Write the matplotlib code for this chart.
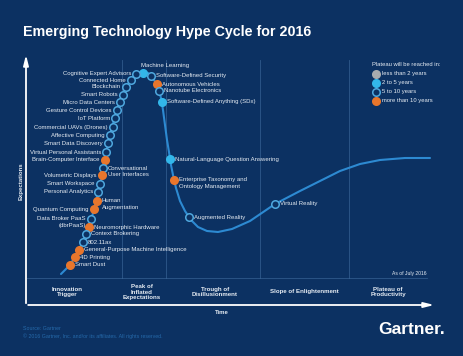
import matplotlib
matplotlib.use('Agg')
import matplotlib.pyplot as plt

plt.rcParams['font.family'] = ['Liberation Sans', 'DejaVu Sans']

# ===== Data (positions, x = time, y = screen depth) =====
techs = [
    'Machine Learning', 'Cognitive Expert Advisors', 'Software-Defined Security',
    'Connected Home', 'Autonomous Vehicles', 'Blockchain', 'Nanotube Electronics',
    'Smart Robots', 'Software-Defined Anything (SDx)', 'Micro Data Centers',
    'Gesture Control Devices', 'IoT Platform', 'Commercial UAVs (Drones)',
    'Affective Computing', 'Smart Data Discovery', 'Virtual Personal Assistants',
    'Brain-Computer Interface', 'Conversational\nUser Interfaces', 'Volumetric Displays',
    'Smart Workspace', 'Personal Analytics', 'Human\nAugmentation', 'Quantum Computing',
    'Data Broker PaaS\n(dbrPaaS)', 'Neuromorphic Hardware', 'Context Brokering',
    '802.11ax', 'General-Purpose Machine Intelligence', '4D Printing', 'Smart Dust',
    'Natural-Language Question Answering', 'Enterprise Taxonomy and\nOntology Management',
    'Augmented Reality', 'Virtual Reality',
]
tech_x = [143, 136, 151, 131, 157, 126, 159, 123, 162, 120, 117, 115, 113, 110, 108,
          106, 105, 103, 102, 100, 98, 97, 94, 91, 89, 86, 83, 79, 75, 70,
          170, 174, 189, 275]
tech_y = [73, 74, 76, 80, 84, 87, 91, 95, 102, 102, 110, 118, 127, 135, 143,
          152, 160, 168, 175, 184, 192, 201, 209, 219, 227, 234, 242, 250, 257, 265,
          159, 180, 217, 204]
# 0: <2 yrs, 1: 2-5 yrs, 2: 5-10 yrs, 3: >10 yrs
horizon = [1, 2, 2, 2, 3, 2, 2, 2, 1, 2, 2, 2, 2, 2, 2, 2, 3, 2, 3, 2, 2, 3, 3, 2,
           3, 2, 2, 3, 3, 3, 1, 3, 2, 2]
side = ['T', 'L', 'R', 'L', 'R', 'L', 'R', 'L', 'R', 'L', 'L', 'L', 'L', 'L', 'L',
        'L', 'L', 'R', 'L', 'L', 'L', 'R', 'L', 'L', 'R', 'R', 'R', 'R', 'R', 'R',
        'R', 'R', 'R', 'R']

curve_x = [61, 70, 79, 86, 91, 95, 98, 102, 105, 108, 112, 117, 122, 128, 135, 143,
           148, 152, 156, 159, 161, 163, 165, 167, 169, 171, 173, 176, 180, 185, 191,
           198, 207, 218, 232, 250, 275, 300, 320, 340, 360, 380, 405, 430]
curve_y = [274, 265, 250, 234, 220, 206, 192, 176, 160, 143, 127, 110, 96, 84, 76, 72,
           73, 77, 83, 91, 98, 110, 125, 140, 152, 165, 175, 188, 201, 211, 220,
           227, 231, 232, 229, 221, 204, 191, 181, 171, 164, 160, 158, 158]

phases = ['Innovation\nTrigger', 'Peak of\nInflated\nExpectations', 'Trough of\nDisillusionment',
          'Slope of Enlightenment', 'Plateau of\nProductivity']
phase_x = [67, 142, 215, 304, 388]
phase_edges = [122, 166, 260, 349]

horizon_labels = ['less than 2 years', '2 to 5 years', '5 to 10 years', 'more than 10 years']

# ===== Style =====
BG = '#0c3162'
LINE = '#2d8ad2'
HOLLOW = '#4fa8de'
fills = ['#a9abae', '#33b7ea', BG, '#e8762c']
edges = ['#a9abae', '#33b7ea', HOLLOW, '#e8762c']
TXT = '#e6ecf3'
FS = 4.35

fig = plt.figure(figsize=(4.64, 3.56), dpi=100, facecolor=BG)
ax = fig.add_axes([0, 0, 1, 1])
ax.set_facecolor(BG)
ax.set_xlim(0, 464)
ax.set_ylim(356, 0)
ax.axis('off')

# title
ax.text(23, 32, 'Emerging Technology Hype Cycle for 2016', color='white',
        fontsize=10.3, fontweight='bold', va='center', ha='left')

# phase dividers
for e in phase_edges:
    ax.plot([e, e], [60, 278], color='#3b6799', lw=0.6, alpha=0.75)
ax.plot([27, 427], [278, 278], color='#3b6799', lw=0.6, alpha=0.75)

# axes arrows
ax.annotate('', xy=(26, 52), xytext=(26, 306),
            arrowprops=dict(arrowstyle='-|>,head_length=0.6,head_width=0.15', color='white', lw=1.3))
ax.annotate('', xy=(437, 305), xytext=(25.4, 305),
            arrowprops=dict(arrowstyle='-|>,head_length=0.6,head_width=0.15', color='white', lw=1.3))
ax.text(21, 181, 'Expectations', rotation=90, color=TXT, fontsize=4.3,
        fontweight='bold', ha='center', va='center')
ax.text(222, 312, 'Time', color=TXT, fontsize=4.3, fontweight='bold', ha='center', va='center')

for name, px in zip(phases, phase_x):
    ax.text(px, 292, name, color=TXT, fontsize=4.4, fontweight='bold', ha='center',
            va='center', linespacing=1.05)
ax.text(427, 273, 'As of July 2016', color=TXT, fontsize=3.6, ha='right', va='center')

# hype curve
ax.plot(curve_x, curve_y, color=LINE, lw=1.5, solid_capstyle='round', zorder=2)

# technologies
for name, x, y, h, s in zip(techs, tech_x, tech_y, horizon, side):
    ax.plot(x, y, 'o', ms=5.4, mfc=fills[h], mec=edges[h], mew=1.1, zorder=3)
    lines = name.split('\n')
    for i, ln in enumerate(lines):
        if s == 'L':
            ax.text(x - 5, y + i * 6.8, ln, color=TXT, fontsize=FS, ha='right', va='center')
        elif s == 'R':
            ax.text(x + 5, y + i * 6.8, ln, color=TXT, fontsize=FS, ha='left', va='center')
        else:
            ax.text(x - 2, y - 7, ln, color=TXT, fontsize=FS, ha='left', va='center')

# legend
ax.text(372, 65, 'Plateau will be reached in:', color=TXT, fontsize=4.25, ha='left', va='center')
for i, lab in enumerate(horizon_labels):
    ly = 73.5 + i * 9
    ax.plot(376, ly, 'o', ms=5.4, mfc=fills[i], mec=edges[i], mew=1.1)
    ax.text(382, ly, lab, color=TXT, fontsize=4.25, ha='left', va='center')

# footer
ax.text(23, 329, 'Source: Gartner', color='#2569aa', fontsize=3.8, ha='left', va='center')
ax.text(23, 336, '\u00a9 2016 Gartner, Inc. and/or its affiliates. All rights reserved.',
        color='#2569aa', fontsize=3.8, ha='left', va='center')
ax.text(445, 330, 'Gartner.', color='white', fontsize=12.5, fontweight='bold',
        ha='right', va='center')

fig.savefig('out.png', dpi=100, facecolor=BG)
